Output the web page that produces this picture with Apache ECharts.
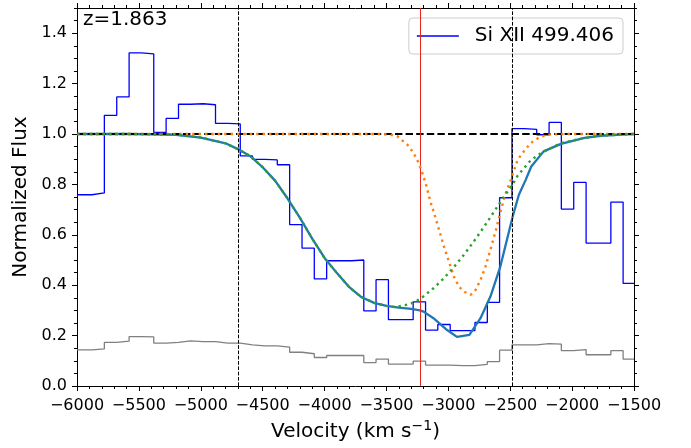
<!DOCTYPE html>
<html>
<head>
<meta charset="utf-8">
<script src="https://cdn.jsdelivr.net/npm/echarts@6/dist/echarts.min.js"></script>
<style>
html,body{margin:0;padding:0;background:#fff;}
#chart{width:691px;height:448px;}
</style>
</head>
<body>
<div id="chart"></div>
<script>
// ---- data ----
const binEdges = [-6000, -5879, -5779, -5679, -5579, -5480, -5380, -5280, -5180, -5081, -4981,
  -4881, -4781, -4681, -4582, -4482, -4382, -4282, -4182, -4083, -3983, -3883, -3783, -3683,
  -3584, -3484, -3384, -3284, -3184, -3085, -2985, -2885, -2785, -2685, -2586, -2486, -2386,
  -2286, -2186, -2087, -1987, -1887, -1787, -1687, -1588, -1500];
const fluxValues = [0.759, 0.766, 1.074, 1.147, 1.322, 1.318, 1.006, 1.062, 1.118, 1.120,
  1.116, 1.042, 1.040, 0.913, 0.899, 0.897, 0.878, 0.640, 0.547, 0.425,
  0.497, 0.497, 0.500, 0.298, 0.422, 0.263, 0.263, 0.334, 0.222, 0.244,
  0.220, 0.220, 0.252, 0.332, 0.747, 1.021, 1.018, 0.997, 1.046, 0.702,
  0.808, 0.567, 0.567, 0.730, 0.407];
const errorValues = [0.143, 0.147, 0.173, 0.178, 0.196, 0.195, 0.170, 0.173, 0.179, 0.176,
  0.176, 0.170, 0.170, 0.163, 0.159, 0.159, 0.154, 0.134, 0.128, 0.113,
  0.121, 0.121, 0.121, 0.093, 0.107, 0.087, 0.087, 0.099, 0.083, 0.083,
  0.081, 0.081, 0.086, 0.097, 0.142, 0.163, 0.163, 0.168, 0.166, 0.140,
  0.144, 0.124, 0.124, 0.140, 0.107];

const modelVel = [-6000, -5600, -5400, -5200, -5000, -4800, -4700, -4600, -4500, -4400, -4300,
  -4200, -4100, -4000, -3900, -3800, -3700, -3600, -3500, -3400, -3300, -3230, -3200, -3120,
  -3010, -2930, -2830, -2740, -2660, -2580, -2480, -2430, -2375, -2330, -2230, -2090, -1900,
  -1770, -1600, -1500];
const modelFlux = [1.0, 1.0, 0.999, 0.997, 0.986, 0.963, 0.940, 0.912, 0.868, 0.815, 0.745,
  0.668, 0.585, 0.508, 0.448, 0.392, 0.352, 0.330, 0.318, 0.311, 0.306, 0.300, 0.295, 0.269,
  0.222, 0.195, 0.203, 0.269, 0.355, 0.474, 0.673, 0.759, 0.818, 0.871, 0.931, 0.961, 0.985,
  0.993, 0.998, 1.0];

const comp1Vel = [-6000, -5600, -5400, -5200, -5000, -4800, -4700, -4600, -4500, -4400, -4300,
  -4200, -4100, -4000, -3900, -3800, -3700, -3600, -3500, -3430, -3310, -3225, -3120, -3035,
  -2955, -2875, -2795, -2710, -2630, -2550, -2480, -2440, -2335, -2250, -2090, -1900, -1770,
  -1600, -1500];
const comp1Flux = [1.0, 1.0, 0.999, 0.997, 0.986, 0.963, 0.940, 0.912, 0.868, 0.815, 0.745,
  0.668, 0.585, 0.508, 0.448, 0.392, 0.352, 0.330, 0.318, 0.313, 0.325, 0.346, 0.388, 0.428,
  0.472, 0.520, 0.573, 0.633, 0.692, 0.752, 0.800, 0.835, 0.895, 0.925, 0.964, 0.984, 0.993,
  0.998, 1.0];

const comp2Vel = [-6000, -3550, -3450, -3410, -3330, -3280, -3240, -3210, -3180, -3145, -3115,
  -3075, -3035, -2995, -2955, -2915, -2875, -2820, -2780, -2740, -2700, -2660, -2615, -2575,
  -2535, -2495, -2440, -2390, -2335, -2265, -2200, -2100, -1500];
const comp2Flux = [1.0, 1.0, 0.996, 0.990, 0.957, 0.924, 0.885, 0.845, 0.798, 0.732, 0.686,
  0.620, 0.553, 0.494, 0.434, 0.395, 0.375, 0.362, 0.381, 0.421, 0.474, 0.540, 0.620, 0.699,
  0.766, 0.818, 0.898, 0.931, 0.964, 0.987, 0.997, 1.0, 1.0];

const yTickValues = [0.0, 0.2, 0.4, 0.6, 0.8, 1.0, 1.2, 1.4];
const continuumLevel = 1.0;
const boundVel = [-4700, -2480];
const centerVel = -3230;
const redshiftLabel = 'z=1.863';
const seriesName = 'Si XII 499.406';

// ---- build ----
function steps(edges, vals) {
  const d = vals.map((v, i) => [edges[i], v]);
  d.push([edges[edges.length - 1], vals[vals.length - 1]]);
  return d;
}
function pairs(xs, ys) { return xs.map((x, i) => [x, ys[i]]); }

const FONT = 'DejaVu Sans';
const AX = '#000';
const minus = v => String(v).replace('-', '\u2212');

const xBase = {
  type: 'value', min: -6000, max: -1500, interval: 500,
  splitLine: { show: false },
  axisLine: { show: true, onZero: false, lineStyle: { color: AX, width: 1 } },
  axisTick: { show: true, inside: false, length: 5, lineStyle: { color: AX, width: 1 } },
  minorTick: { show: true, splitNumber: 5, length: 3, lineStyle: { color: AX, width: 1 } },
  minorSplitLine: { show: false }
};
const yBase = {
  type: 'value', min: 0, max: 1.5, interval: 0.05,
  splitLine: { show: false }
};

const chart = echarts.init(document.getElementById('chart'), null, { renderer: 'canvas' });
chart.setOption({
  animation: false,
  backgroundColor: '#fff',
  grid: { left: 77, right: 57, top: 8, bottom: 62, containLabel: false },
  legend: {
    data: [{ name: seriesName, icon: 'rect' }],
    right: 68, top: 18,
    itemWidth: 42, itemHeight: 1.5,
    padding: [8, 9, 8, 8],
    borderColor: '#cccccc', borderWidth: 1, borderRadius: 4,
    backgroundColor: 'rgba(255,255,255,0.8)',
    textStyle: { fontSize: 20, color: '#000', fontFamily: FONT, padding: [0, 0, 0, 11] }
  },
  graphic: [{
    type: 'text', left: 83, top: 10, z: 100,
    style: { text: redshiftLabel, font: '20px "DejaVu Sans"', fill: '#000' }
  }],
  xAxis: [
    Object.assign({}, xBase, {
      position: 'bottom',
      axisLabel: { show: true, formatter: minus, fontSize: 16, color: '#000', fontFamily: FONT, margin: 12 },
      name: '{a|Velocity (km s}{s|\u22121}{a|)}',
      nameLocation: 'middle', nameGap: 30,
      nameTextStyle: {
        fontFamily: FONT, color: '#000', fontSize: 20,
        rich: {
          a: { fontSize: 20, fontFamily: FONT, color: '#000', lineHeight: 25 },
          s: { fontSize: 14, fontFamily: FONT, color: '#000', lineHeight: 14, verticalAlign: 'top' }
        }
      }
    }),
    Object.assign({}, xBase, { position: 'top', axisLabel: { show: false } })
  ],
  yAxis: [
    Object.assign({}, yBase, {
      position: 'left',
      axisLine: { show: true, onZero: false, lineStyle: { color: AX, width: 1 } },
      axisTick: { show: true, length: 5, customValues: yTickValues, lineStyle: { color: AX, width: 1 } },
      axisLabel: { show: true, customValues: yTickValues, formatter: v => v.toFixed(1),
        fontSize: 16, color: '#000', fontFamily: FONT, margin: 10 },
      name: 'Normalized Flux', nameLocation: 'middle', nameGap: 39,
      nameTextStyle: { fontSize: 20, color: '#000', fontFamily: FONT }
    }),
    Object.assign({}, yBase, {
      position: 'left',
      axisLine: { show: false },
      axisTick: { show: true, length: 3, lineStyle: { color: AX, width: 1 } },
      axisLabel: { show: false }
    }),
    Object.assign({}, yBase, {
      position: 'right',
      axisLine: { show: true, onZero: false, lineStyle: { color: AX, width: 1 } },
      axisTick: { show: true, length: 5, customValues: yTickValues, lineStyle: { color: AX, width: 1 } },
      axisLabel: { show: false }
    }),
    Object.assign({}, yBase, {
      position: 'right',
      axisLine: { show: false },
      axisTick: { show: true, length: 3, lineStyle: { color: AX, width: 1 } },
      axisLabel: { show: false }
    })
  ],
  series: [
    {
      name: seriesName, type: 'line', step: 'end', symbol: 'none', z: 3,
      data: steps(binEdges, fluxValues),
      itemStyle: { color: '#0000ff' },
      lineStyle: { color: '#0000ff', width: 1.3 }
    },
    {
      name: 'error', type: 'line', step: 'end', symbol: 'none', z: 3,
      data: steps(binEdges, errorValues),
      itemStyle: { color: '#808080' },
      lineStyle: { color: '#808080', width: 1.3 }
    },
    {
      name: 'model', type: 'line', symbol: 'none', z: 4,
      data: pairs(modelVel, modelFlux),
      lineStyle: { color: '#1f77b4', width: 2.3 }
    },
    {
      name: 'comp2', type: 'line', symbol: 'none', z: 5,
      data: pairs(comp2Vel, comp2Flux),
      lineStyle: { color: '#ff7f0e', width: 2.4, type: [2.4, 4] }
    },
    {
      name: 'comp1', type: 'line', symbol: 'none', z: 6,
      data: pairs(comp1Vel, comp1Flux),
      lineStyle: { color: '#2ca02c', width: 2.4, type: [2.4, 4] }
    },
    {
      name: 'refs', type: 'line', data: [], z: 10, symbol: 'none',
      markLine: {
        silent: true, symbol: ['none', 'none'], label: { show: false }, animation: false,
        data: [
          { yAxis: continuumLevel, lineStyle: { color: '#000', width: 2, type: [7.4, 3.2] } },
          { xAxis: boundVel[0], lineStyle: { color: '#000', width: 1, type: [3.7, 1.6] } },
          { xAxis: boundVel[1], lineStyle: { color: '#000', width: 1, type: [3.7, 1.6] } },
          { xAxis: centerVel, lineStyle: { color: '#e8281e', width: 1, type: 'solid' } }
        ]
      }
    }
  ]
});
</script>
</body>
</html>
